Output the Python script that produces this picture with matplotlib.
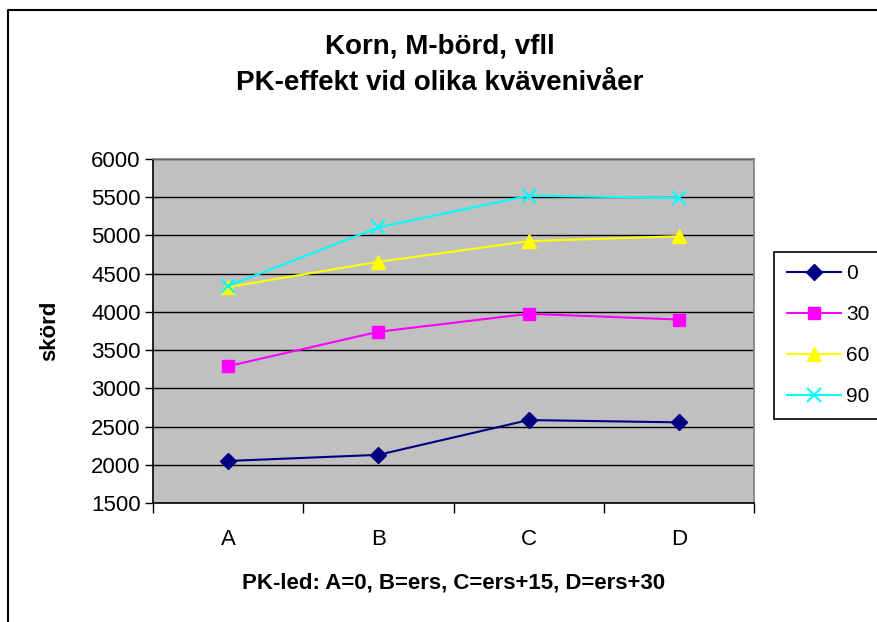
import numpy as np
import matplotlib
matplotlib.use("Agg")
from matplotlib import pyplot as plt
from matplotlib.lines import Line2D

plt.rcParams['font.family'] = ['Liberation Sans', 'DejaVu Sans']

categories = ['A', 'B', 'C', 'D']
series_names = ['0', '30', '60', '90']
s0 = [2050, 2130, 2585, 2555]
s30 = [3290, 3740, 3975, 3900]
s60 = [4325, 4655, 4925, 4990]
s90 = [4340, 5105, 5520, 5490]
yticks = [1500, 2000, 2500, 3000, 3500, 4000, 4500, 5000, 5500, 6000]

W, H = 877, 622
fig = plt.figure(figsize=(W / 100, H / 100), dpi=100)
ax = fig.add_axes([153 / W, 1 - 503 / H, (754 - 153) / W, (503 - 159) / H])
ax.set_facecolor('#C0C0C0')

x = np.arange(len(categories))
styles = [
    (s0, '#000080', 'D', 8),
    (s30, '#FF00FF', 's', 9),
    (s60, '#FFFF00', '^', 10),
    (s90, '#00FFFF', 'x', 10),
]
for (vals, col, mk, ms), name in zip(styles, series_names):
    ax.plot(x, vals, color=col, marker=mk, markersize=ms, lw=1.5,
            markeredgewidth=1.5 if mk == 'x' else 1, label=name)

ax.set_xlim(-0.5, len(categories) - 0.5)
ax.set_ylim(1500, 6000)
ax.set_yticks(yticks)
ax.yaxis.grid(True, color='black', lw=1)
ax.set_axisbelow(True)

ax.set_xticks(x)
ax.set_xticklabels(categories)
ax.set_xticks(np.arange(-0.5, len(categories)), minor=True)
ax.tick_params(axis='x', which='major', length=0, labelsize=16, pad=19)
ax.tick_params(axis='x', which='minor', length=7, width=1, direction='out')
ax.tick_params(axis='y', length=6, width=1, direction='out', labelsize=16, pad=3)

for side in ['left', 'bottom']:
    ax.spines[side].set_color('black')
    ax.spines[side].set_linewidth(1.2)
for side in ['top', 'right']:
    ax.spines[side].set_color('#808080')
    ax.spines[side].set_linewidth(1.2)

ax.set_ylabel('skörd', fontsize=16, fontweight='bold', labelpad=22)
ax.set_xlabel('PK-led: A=0, B=ers, C=ers+15, D=ers+30', fontsize=16,
              fontweight='bold', labelpad=16)

fig.text(440 / W, 1 - 46 / H, 'Korn, M-börd, vfll', ha='center', va='center',
         fontsize=20, fontweight='bold')
fig.text(440 / W, 1 - 83 / H, 'PK-effekt vid olika kvävenivåer', ha='center',
         va='center', fontsize=20, fontweight='bold')

leg = fig.legend(loc='upper left', bbox_to_anchor=(774 / W, 1 - 252 / H),
                 fontsize=15, frameon=True, fancybox=False, framealpha=1,
                 edgecolor='black', handlelength=2.6, borderpad=0.6,
                 labelspacing=1.05, handletextpad=0.25, borderaxespad=0)
leg.get_frame().set_linewidth(1.2)

# outer chart border (cropped)
fig.add_artist(Line2D([8 / W, 8 / W, 1], [0, 1 - 10 / H, 1 - 10 / H],
                      transform=fig.transFigure, color='black', lw=1.5))

fig.savefig('out.png', dpi=100)
